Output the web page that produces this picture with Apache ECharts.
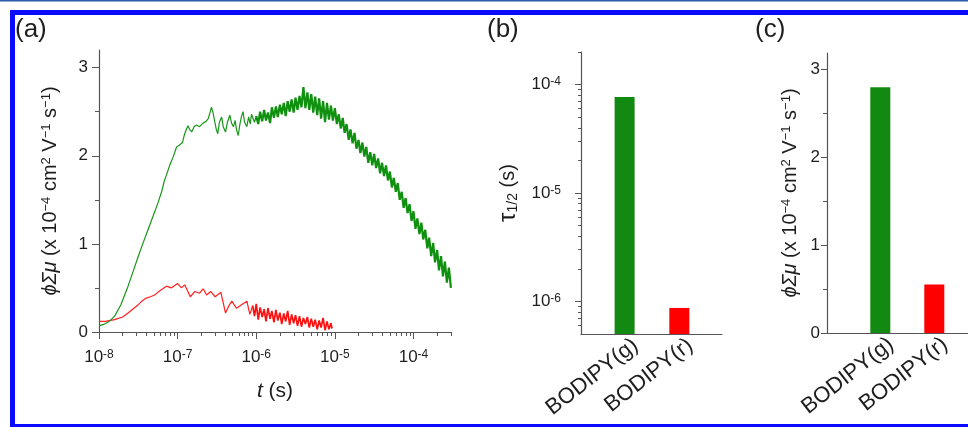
<!DOCTYPE html>
<html>
<head>
<meta charset="utf-8">
<script src="https://cdn.jsdelivr.net/npm/echarts@6/dist/echarts.min.js"></script>
<style>
  html, body { margin: 0; padding: 0; background: #fff; }
  #chart { width: 968px; height: 427px; }
</style>
</head>
<body>
<div id="chart"></div>
<script>
// (a) transient photoconductivity, [t (s), phiSumMu (x1e-4 cm2/Vs)]
// rise region (thin trace)
const greenEarly = [
  [1.0e-8,0.07],[1.17e-8,0.09],[1.35e-8,0.12],[1.58e-8,0.18],[1.9e-8,0.31],[2.34e-8,0.52],[2.7e-8,0.68],
  [3.16e-8,0.86],[3.6e-8,1.0],[4.2e-8,1.16],[4.8e-8,1.3],[5.6e-8,1.46],[6.3e-8,1.6],[6.8e-8,1.72],
  [7.2e-8,1.78],[8.0e-8,1.9],[8.8e-8,1.99],[9.7e-8,2.1],[1.05e-7,2.12],[1.15e-7,2.15],[1.23e-7,2.25],
  [1.35e-7,2.34],[1.42e-7,2.3],[1.51e-7,2.27],[1.62e-7,2.33],[1.74e-7,2.35],[1.9e-7,2.33],[2.11e-7,2.37],
  [2.3e-7,2.39],[2.45e-7,2.42],[2.6e-7,2.5],[2.69e-7,2.55],[2.8e-7,2.5],[2.95e-7,2.4],[3.1e-7,2.3],
  [3.24e-7,2.25],[3.4e-7,2.38],[3.63e-7,2.44],[3.8e-7,2.33],[4.07e-7,2.27],[4.3e-7,2.38],[4.62e-7,2.46],
  [4.85e-7,2.37],[5.13e-7,2.33],[5.4e-7,2.4],[5.6e-7,2.3],[5.9e-7,2.23],[6.2e-7,2.36],[6.5e-7,2.45],
  [6.8e-7,2.5],[7.1e-7,2.38],[7.6e-7,2.33],[8.0e-7,2.44],[8.4e-7,2.36],[8.7e-7,2.47],[9.1e-7,2.48],[9.5e-7,2.38],
  [1.0e-6,2.45]
];
// noisy plateau and decay (dense trace)
const greenLate = [
  [1.0e-6,2.45],[1.06e-6,2.36],[1.12e-6,2.5],[1.19e-6,2.39],[1.26e-6,2.52],[1.33e-6,2.4],[1.41e-6,2.49],
  [1.5e-6,2.37],[1.58e-6,2.55],[1.68e-6,2.43],[1.78e-6,2.56],[1.88e-6,2.44],[2.0e-6,2.58],[2.11e-6,2.47],
  [2.24e-6,2.6],[2.37e-6,2.45],[2.51e-6,2.62],[2.66e-6,2.5],[2.82e-6,2.64],[2.99e-6,2.49],[3.16e-6,2.66],
  [3.35e-6,2.52],[3.55e-6,2.68],[3.76e-6,2.55],[3.98e-6,2.78],[4.22e-6,2.54],[4.47e-6,2.72],[4.73e-6,2.52],
  [5.01e-6,2.7],[5.31e-6,2.49],[5.62e-6,2.67],[5.96e-6,2.46],[6.31e-6,2.65],[6.68e-6,2.42],[7.08e-6,2.62],
  [7.5e-6,2.38],[7.94e-6,2.6],[8.41e-6,2.41],[8.91e-6,2.57],[9.44e-6,2.4],
  [1.0e-5,2.54],[1.06e-5,2.36],[1.12e-5,2.47],[1.19e-5,2.31],[1.26e-5,2.43],[1.33e-5,2.26],[1.41e-5,2.36],
  [1.5e-5,2.18],[1.58e-5,2.3],[1.68e-5,2.14],[1.78e-5,2.26],[1.88e-5,2.08],[2.0e-5,2.18],[2.11e-5,2.03],
  [2.24e-5,2.15],[2.37e-5,1.99],[2.51e-5,2.1],[2.66e-5,1.92],[2.82e-5,2.04],[2.99e-5,1.89],[3.16e-5,2.02],
  [3.35e-5,1.86],[3.55e-5,1.97],[3.76e-5,1.8],[3.98e-5,1.92],[4.22e-5,1.77],[4.47e-5,1.89],[4.73e-5,1.72],
  [5.01e-5,1.82],[5.31e-5,1.64],[5.62e-5,1.75],[5.96e-5,1.59],[6.31e-5,1.69],[6.68e-5,1.5],[7.08e-5,1.59],
  [7.5e-5,1.41],[7.94e-5,1.52],[8.41e-5,1.35],[8.91e-5,1.45],[9.44e-5,1.26],
  [1.0e-4,1.37],[1.06e-4,1.17],[1.12e-4,1.29],[1.19e-4,1.11],[1.26e-4,1.24],[1.33e-4,1.05],[1.41e-4,1.16],
  [1.5e-4,0.95],[1.58e-4,1.07],[1.68e-4,0.86],[1.78e-4,1.01],[1.88e-4,0.79],[2.0e-4,0.93],[2.11e-4,0.7],
  [2.24e-4,0.86],[2.37e-4,0.63],[2.51e-4,0.8],[2.66e-4,0.56],[2.82e-4,0.73],[2.99e-4,0.5]
];
const redEarly = [
  [1.0e-8,0.12],[1.2e-8,0.12],[1.35e-8,0.13],[1.58e-8,0.14],[2.0e-8,0.17],[2.34e-8,0.215],[2.7e-8,0.26],
  [3.16e-8,0.31],[3.5e-8,0.35],[3.98e-8,0.385],[4.5e-8,0.4],[5.1e-8,0.42],[5.6e-8,0.45],[6.2e-8,0.48],
  [7.2e-8,0.52],[8.3e-8,0.5],[1.0e-7,0.55],[1.12e-7,0.5],[1.23e-7,0.535],[1.45e-7,0.4],[1.66e-7,0.46],
  [1.9e-7,0.44],[2.11e-7,0.49],[2.34e-7,0.42],[2.63e-7,0.46],[3.0e-7,0.4],[3.55e-7,0.45],[4.07e-7,0.215],
  [4.5e-7,0.3],[4.9e-7,0.35],[5.6e-7,0.27],[6.5e-7,0.31],[7.6e-7,0.35],[8.3e-7,0.2],[9.0e-7,0.3]
];
const redLate = [
  [9.0e-7,0.3],[9.5e-7,0.18],[1.0e-6,0.32],[1.06e-6,0.14],[1.12e-6,0.28],[1.19e-6,0.17],[1.26e-6,0.26],
  [1.33e-6,0.12],[1.41e-6,0.27],[1.5e-6,0.15],[1.58e-6,0.24],[1.68e-6,0.11],[1.78e-6,0.25],[1.88e-6,0.13],
  [2.0e-6,0.22],[2.11e-6,0.09],[2.24e-6,0.21],[2.37e-6,0.12],[2.51e-6,0.24],[2.66e-6,0.08],[2.82e-6,0.2],
  [2.99e-6,0.1],[3.16e-6,0.19],[3.35e-6,0.07],[3.55e-6,0.18],[3.76e-6,0.06],[3.98e-6,0.16],[4.22e-6,0.09],
  [4.47e-6,0.17],[4.73e-6,0.05],[5.01e-6,0.15],[5.31e-6,0.06],[5.62e-6,0.14],[5.96e-6,0.03],[6.31e-6,0.13],
  [6.68e-6,0.05],[7.08e-6,0.16],[7.5e-6,0.02],[7.94e-6,0.12],[8.41e-6,0.03],[8.91e-6,0.1],[9.2e-6,0.04]
];

// (b) and (c) bars
const barCategories = ['BODIPY(g)', 'BODIPY(r)'];
const tauValues = [7.7e-5, 8.7e-7];
const mobilityValues = [2.79, 0.55];
const barColors = ['#128a12', '#ff0000'];

// tick positions
const timeTicks = [1e-8, 1e-7, 1e-6, 1e-5, 1e-4];
const timeMinorTicks = [2e-8,3e-8,4e-8,5e-8,6e-8,7e-8,8e-8,9e-8,2e-7,3e-7,4e-7,5e-7,6e-7,7e-7,8e-7,9e-7,
  2e-6,3e-6,4e-6,5e-6,6e-6,7e-6,8e-6,9e-6,2e-5,3e-5,4e-5,5e-5,6e-5,7e-5,8e-5,9e-5,2e-4,3e-4];
const mobTicks = [0, 1, 2, 3];
const mobMinorTicks = [0.5, 1.5, 2.5];
const tauTicks = [1e-6, 1e-5, 1e-4];
const tauMinorTicks = [6e-7,7e-7,8e-7,9e-7,2e-6,3e-6,4e-6,5e-6,6e-6,7e-6,8e-6,9e-6,
  2e-5,3e-5,4e-5,5e-5,6e-5,7e-5,8e-5,9e-5,2e-4];

const FONT = 'Liberation Sans';
const TXT = '#1e1e1e';
const AX = '#555';

const tok = (size, extra) => Object.assign({ fontSize: size, color: TXT, fontFamily: FONT }, extra || {});

const powLabelStyle = {
  fontSize: 17, color: TXT, fontFamily: FONT,
  formatter: v => '{b|10}{s|' + Math.round(Math.log10(v)) + '}',
  rich: {
    b: tok(17, { verticalAlign: 'bottom' }),
    s: tok(12, { verticalAlign: 'top' })
  }
};

const mobName = '{i|ϕΣμ}{n| (x 10}{s|−4}{n| cm}{s|2}{n| V}{s|−1}{n| s}{s|−1}{n|)}';
const mobNameStyle = {
  fontSize: 20, color: TXT, fontFamily: FONT,
  rich: {
    n: tok(20),
    i: tok(20, { fontStyle: 'italic' }),
    s: tok(13, { verticalAlign: 'top' })
  }
};

const axisLineStyle = { show: true, onZero: false, lineStyle: { color: AX, width: 1.2 } };
const hiddenLine = { show: false, onZero: false };
// labels anchored slightly right of each bar centre, as in the source figure
const catShift = 0.2;
const catLabel = {
  customValues: [0 + catShift, 1 + catShift], rotate: 38, margin: 9, fontSize: 22, color: TXT,
  fontFamily: FONT, formatter: v => barCategories[Math.round(v - catShift)]
};

const chart = echarts.init(document.getElementById('chart'));
chart.setOption({
  backgroundColor: '#fff',
  animation: false,
  grid: [
    { left: 99, top: 50, width: 352, height: 282 },
    { left: 581, top: 52, width: 141, height: 282 },
    { left: 827, top: 53, width: 141, height: 280 }
  ],
  xAxis: [
    {
      type: 'log', logBase: 10, gridIndex: 0, position: 'bottom', min: 1e-8, max: 3e-4,
      axisLine: axisLineStyle,
      axisTick: { show: true, length: 7, customValues: timeTicks, lineStyle: { color: AX } },
      axisLabel: Object.assign({ customValues: timeTicks, margin: 17 }, powLabelStyle),
      splitLine: { show: false },
      name: '{i|t}{n| (s)}', nameLocation: 'middle', nameGap: 49,
      nameTextStyle: { fontSize: 21, color: TXT, fontFamily: FONT,
        rich: { n: tok(21), i: tok(21, { fontStyle: 'italic' }) } }
    },
    {
      type: 'log', logBase: 10, gridIndex: 0, position: 'bottom', min: 1e-8, max: 3e-4,
      axisLine: hiddenLine,
      axisTick: { show: true, length: 4, customValues: timeMinorTicks, lineStyle: { color: AX } },
      axisLabel: { show: false },
      splitLine: { show: false }
    },
    {
      type: 'value', gridIndex: 1, position: 'bottom', min: -0.797, max: 1.78,
      axisLine: axisLineStyle,
      axisTick: { show: false },
      axisLabel: catLabel,
      splitLine: { show: false }
    },
    {
      type: 'value', gridIndex: 2, position: 'bottom', min: -0.987, max: 1.624,
      axisLine: axisLineStyle,
      axisTick: { show: false },
      axisLabel: catLabel,
      splitLine: { show: false }
    }
  ],
  yAxis: [
    {
      type: 'value', gridIndex: 0, position: 'left', min: 0, max: 3.2,
      axisLine: axisLineStyle,
      axisTick: { show: true, length: 7, customValues: mobTicks, lineStyle: { color: AX } },
      axisLabel: { customValues: mobTicks, margin: 11, fontSize: 17, color: TXT, fontFamily: FONT },
      splitLine: { show: false },
      name: mobName, nameLocation: 'middle', nameGap: 39, nameTextStyle: mobNameStyle
    },
    {
      type: 'value', gridIndex: 0, position: 'left', min: 0, max: 3.2,
      axisLine: hiddenLine,
      axisTick: { show: true, length: 4, customValues: mobMinorTicks, lineStyle: { color: AX } },
      axisLabel: { show: false },
      splitLine: { show: false }
    },
    {
      type: 'log', logBase: 10, gridIndex: 1, position: 'left', min: 5e-7, max: 2e-4, startValue: 5e-7,
      axisLine: axisLineStyle,
      axisTick: { show: true, length: 6, customValues: tauTicks, lineStyle: { color: AX } },
      axisLabel: Object.assign({ customValues: tauTicks, margin: 20 }, powLabelStyle),
      splitLine: { show: false },
      name: '{t|τ}{sub|1/2}{n| (s)}', nameLocation: 'middle', nameGap: 61,
      nameTextStyle: { fontSize: 20, color: TXT, fontFamily: FONT,
        rich: {
          t: tok(24),
          sub: tok(14, { verticalAlign: 'bottom' }),
          n: tok(20)
        } }
    },
    {
      type: 'log', logBase: 10, gridIndex: 1, position: 'left', min: 5e-7, max: 2e-4,
      axisLine: hiddenLine,
      axisTick: { show: true, length: 3, customValues: tauMinorTicks, lineStyle: { color: AX } },
      axisLabel: { show: false },
      splitLine: { show: false }
    },
    {
      type: 'value', gridIndex: 2, position: 'left', min: 0, max: 3.18,
      axisLine: axisLineStyle,
      axisTick: { show: true, length: 6, customValues: mobTicks, lineStyle: { color: AX } },
      axisLabel: { customValues: mobTicks, margin: 7, fontSize: 17, color: TXT, fontFamily: FONT },
      splitLine: { show: false },
      name: mobName, nameLocation: 'middle', nameGap: 27, nameTextStyle: mobNameStyle
    },
    {
      type: 'value', gridIndex: 2, position: 'left', min: 0, max: 3.18,
      axisLine: hiddenLine,
      axisTick: { show: true, length: 4, customValues: mobMinorTicks, lineStyle: { color: AX } },
      axisLabel: { show: false },
      splitLine: { show: false }
    }
  ],
  series: [
    {
      name: 'BODIPY(r)', type: 'line', xAxisIndex: 0, yAxisIndex: 0,
      data: redEarly, showSymbol: false, symbol: 'none',
      lineStyle: { color: '#ff2020', width: 1.2 }
    },
    {
      name: 'BODIPY(r)', type: 'line', xAxisIndex: 0, yAxisIndex: 0,
      data: redLate, showSymbol: false, symbol: 'none',
      lineStyle: { color: '#ff1010', width: 1.7 }
    },
    {
      name: 'BODIPY(g)', type: 'line', xAxisIndex: 0, yAxisIndex: 0,
      data: greenEarly, showSymbol: false, symbol: 'none',
      lineStyle: { color: '#179717', width: 1.2 }
    },
    {
      name: 'BODIPY(g)', type: 'line', xAxisIndex: 0, yAxisIndex: 0,
      data: greenLate, showSymbol: false, symbol: 'none',
      lineStyle: { color: '#0f900f', width: 2.2 }
    },
    {
      type: 'bar', xAxisIndex: 2, yAxisIndex: 2, barWidth: 20,
      data: tauValues.map((v, i) => ({ value: [i, v], itemStyle: { color: barColors[i] } }))
    },
    {
      type: 'bar', xAxisIndex: 3, yAxisIndex: 4, barWidth: 20,
      data: mobilityValues.map((v, i) => ({ value: [i, v], itemStyle: { color: barColors[i] } }))
    }
  ],
  graphic: [
    { type: 'text', left: 15, top: 17, style: { text: '(a)', font: '26px "Liberation Sans"', fill: TXT } },
    { type: 'text', left: 487, top: 17, style: { text: '(b)', font: '26px "Liberation Sans"', fill: TXT } },
    { type: 'text', left: 755, top: 17, style: { text: '(c)', font: '26px "Liberation Sans"', fill: TXT } },
    { type: 'rect', z: 100, shape: { x: 0, y: 0, width: 968, height: 1.5 }, style: { fill: '#2a5aa8' } },
    { type: 'rect', z: 100, shape: { x: 12.5, y: 12.5, width: 1000, height: 414 },
      style: { fill: 'none', stroke: '#0a0aff', lineWidth: 5 } }
  ]
});
</script>
</body>
</html>
